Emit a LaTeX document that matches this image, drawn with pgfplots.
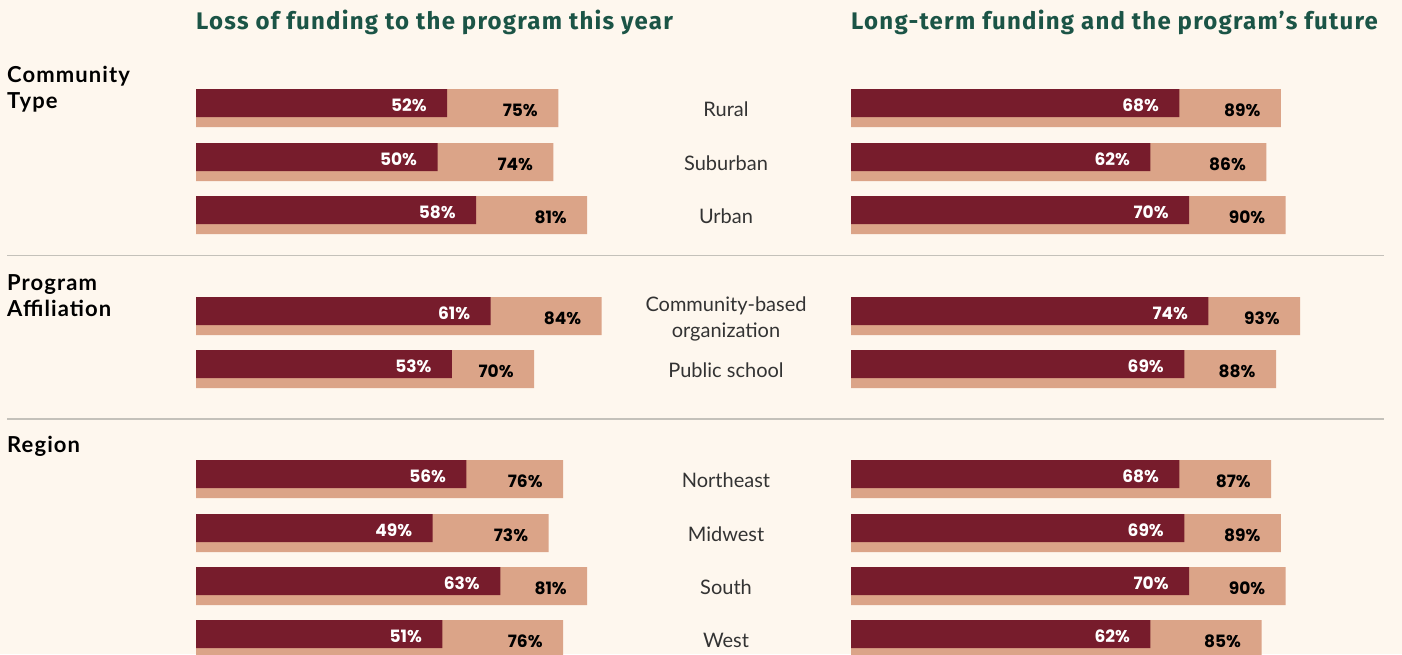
\documentclass[border=0pt]{standalone}
\usepackage{pgfplots}
\usepackage{pgfplotstable}
\pgfplotsset{compat=1.18}
\usepackage{fontspec}
\setmainfont{Lato}
\newfontfamily\headfont{Fira Sans}[LetterSpace=5.2]
\newfontfamily\groupfont{Lato}[LetterSpace=5]
\newfontfamily\pctfont{Poppins}
\definecolor{bg}{HTML}{FEF7EE}
\definecolor{darkbar}{HTML}{771C2C}
\definecolor{lightbar}{HTML}{DBA488}
\definecolor{headgreen}{HTML}{1B5446}
\definecolor{sepgray}{HTML}{C4C1BA}
\definecolor{labgray}{HTML}{333333}

% yd / yl : vertical position (px from top) of the dark / light bar centres
\pgfplotstableread{
row yd  yl  lossd lossl ltd ltl
1   103 108 52    75    68  89
2   157 162 50    74    62  86
3   210 215 58    81    70  90
4   311 316 61    84    74  93
5   364 369 53    70    69  88
6   474 479 56    76    68  87
7   528 533 49    73    69  89
8   581 586 63    81    70  90
9   634 639 51    76    62  85
}\data

\pgfplotsset{
  panel/.style={x=4.83pt, y=1pt, y dir=reverse, xmin=0, xmax=100, ymin=0, ymax=654,
    hide axis, clip=false, anchor=origin, /pgf/number format/assume math mode=true},
  lightbars/.style={xbar, bar shift=0pt, bar width=38pt, fill=lightbar, draw=none, point meta=x,
    nodes near coords={\pgfmathprintnumber{\pgfplotspointmeta}\%},
    nodes near coords align={anchor=east},
    every node near coord/.append style={anchor=east, xshift=-17pt, yshift=-2pt, text=black,
      font=\pctfont\bfseries\fontsize{17}{20}\selectfont}},
  darkbars/.style={xbar, bar shift=0pt, bar width=28pt, fill=darkbar, draw=none, point meta=x,
    nodes near coords={\pgfmathprintnumber{\pgfplotspointmeta}\%},
    nodes near coords align={anchor=east},
    every node near coord/.append style={anchor=east, xshift=-17pt, yshift=-2pt, text=white,
      font=\pctfont\bfseries\fontsize{17}{20}\selectfont}},
}

\begin{document}
\begin{tikzpicture}
\path[use as bounding box] (0,0) rectangle (1402pt,-654pt);
\fill[bg] (0,0) rectangle (1402pt,-654pt);

\begin{axis}[panel, at={(196pt,0pt)}]
\addplot[lightbars] table[x=lossl, y=yl] {\data};
\addplot[darkbars] table[x=lossd, y=yd] {\data};
\end{axis}

\begin{axis}[panel, at={(851pt,0pt)}]
\addplot[lightbars] table[x=ltl, y=yl] {\data};
\addplot[darkbars] table[x=ltd, y=yd] {\data};
\end{axis}

\begin{scope}[x=1pt, y=-1pt]
% headers
\node[anchor=base west, inner sep=0pt, text=headgreen, font=\headfont\bfseries\fontsize{24}{28}\selectfont]
  at (196,29) {Loss of funding to the program this year};
\node[anchor=base west, inner sep=0pt, text=headgreen, font=\headfont\bfseries\fontsize{24}{28}\selectfont]
  at (851,29) {Long-term funding and the program’s future};
% group labels
\begin{scope}[every node/.style={anchor=base west, inner sep=0pt, text=black, font=\groupfont\bfseries\fontsize{22}{26}\selectfont}]
\node at (7,82) {Community};
\node at (7,108) {Type};
\node at (7,290) {Program};
\node at (7,316) {Affiliation};
\node at (7,452) {Region};
\end{scope}
% category labels
\begin{scope}[every node/.style={anchor=base, inner sep=0pt, text=labgray, font=\fontsize{20}{24}\selectfont}]
\node at (726,116) {Rural};
\node at (726,170) {Suburban};
\node at (726,223) {Urban};
\node at (726,311) {Community-based};
\node at (726,337) {organization};
\node at (726,377) {Public school};
\node at (726,487) {Northeast};
\node at (726,541) {Midwest};
\node at (726,594) {South};
\node at (726,647) {West};
\end{scope}
% separators
\draw[sepgray, line width=1.3pt] (7,255.5) -- (1384,255.5);
\draw[sepgray, line width=1.3pt] (7,419) -- (1384,419);
\end{scope}
\end{tikzpicture}
\end{document}
